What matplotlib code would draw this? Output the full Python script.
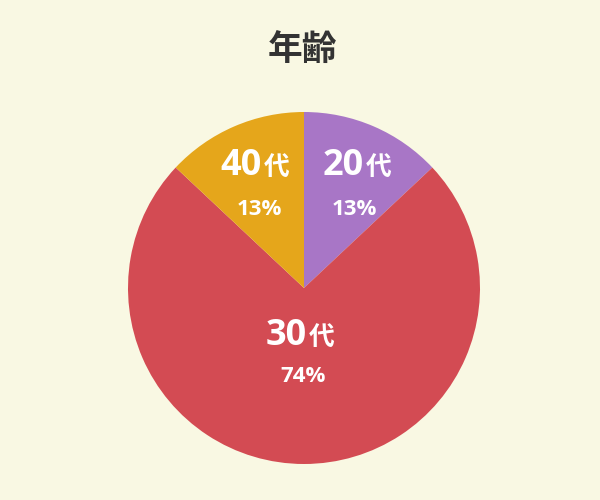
import matplotlib.pyplot as plt

plt.rcParams['font.family'] = ['Noto Sans CJK JP', 'DejaVu Sans']

# data
ages = ['20', '30', '40']
shares = [13, 74, 13]
colors = ['#A876C6', '#D34B53', '#E5A61B']

# label anchors in data units: (split x, number baseline y, pct center x, pct baseline y)
anchors = [(0.341, 0.642, 0.287, 0.415),
           (0.017, -0.324, -0.003, -0.534),
           (-0.239, 0.642, -0.256, 0.415)]

bg = '#F9F8E3'
num_font = ['Open Sans', 'Noto Sans CJK JP']
fig = plt.figure(figsize=(6, 5), dpi=100, facecolor=bg)
ax = fig.add_axes([128 / 600, (500 - 464) / 500, 352 / 600, 352 / 500])
ax.set_facecolor(bg)

ax.pie(shares, colors=colors, startangle=90, counterclock=False, radius=1,
       wedgeprops={'linewidth': 0})
ax.set_xlim(-1, 1)
ax.set_ylim(-1, 1)
ax.set_aspect('equal')
ax.axis('off')

for age, s, (xs, yb, xp, yp) in zip(ages, shares, anchors):
    ax.text(xs, yb, age, ha='right', va='baseline', color='white',
            fontsize=26, fontweight='bold', family=num_font)
    ax.annotate('代', (xs, yb), xytext=(1, 0), textcoords='offset points',
                ha='left', va='baseline', color='white', fontsize=18.5,
                fontweight='bold')
    ax.text(xp, yp, f'{s}%', ha='center', va='baseline', color='white',
            fontsize=16, fontweight='bold', family=num_font)

fig.text(302 / 600, 1 - 50 / 500, '年齢', ha='center', va='center',
         fontsize=25, fontweight='bold', color='#333333')

fig.savefig('out.png', dpi=100, facecolor=bg)
